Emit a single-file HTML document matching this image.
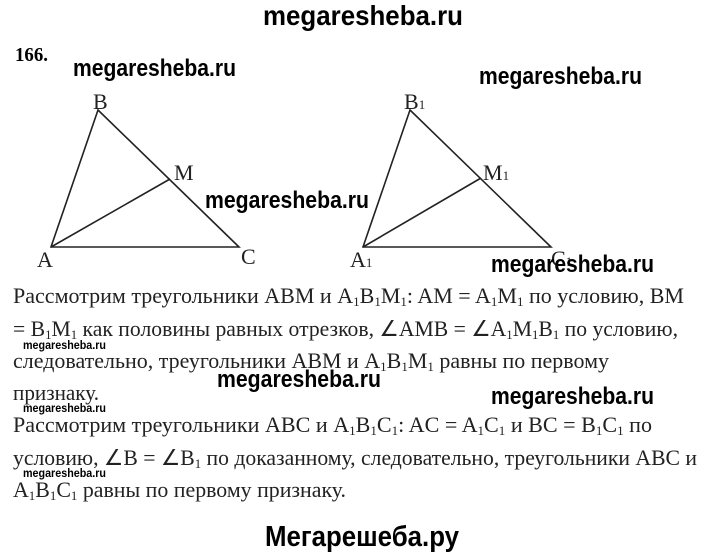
<!DOCTYPE html>
<html><head><meta charset="utf-8"><style>
html,body{margin:0;padding:0;background:#fff;}
svg{display:block;}
.s{font-family:"Liberation Serif",serif;font-size:22px;fill:#222;}
.w{font-family:"Liberation Sans",sans-serif;font-weight:bold;fill:#000;}
.sub{font-size:13px;}
</style></head><body>
<svg width="720" height="554" viewBox="0 0 720 554" xmlns="http://www.w3.org/2000/svg">
<text class="w" x="263" y="25" font-size="28" textLength="200" lengthAdjust="spacingAndGlyphs">megaresheba.ru</text>
<text x="15" y="61" font-family="Liberation Serif,serif" font-weight="bold" font-size="20" textLength="33" lengthAdjust="spacingAndGlyphs">166.</text>
<text class="w" x="73" y="76" font-size="24" textLength="163" lengthAdjust="spacingAndGlyphs">megaresheba.ru</text>
<text class="w" x="479" y="84" font-size="24" textLength="163" lengthAdjust="spacingAndGlyphs">megaresheba.ru</text>
<g stroke="#222" stroke-width="1.6" fill="none">
<polygon points="98,110 51,247 239,247"/><line x1="51" y1="247" x2="170" y2="179"/>
<polygon points="410,110 363,247 551,247"/><line x1="363" y1="247" x2="481" y2="178"/>
</g>
<g class="s" font-size="19">
<text x="93" y="109">B</text><text x="174" y="180">M</text><text x="37" y="267">A</text><text x="241" y="264">C</text>
<text x="404" y="109">B<tspan class="sub">1</tspan></text>
<text x="483" y="180">M<tspan class="sub">1</tspan></text>
<text x="350" y="267">A<tspan class="sub">1</tspan></text>
<text x="551" y="266">C<tspan class="sub">1</tspan></text>
</g>
<text class="w" x="205" y="208" font-size="24" textLength="164" lengthAdjust="spacingAndGlyphs">megaresheba.ru</text>
<text class="w" x="491" y="272" font-size="24" textLength="163" lengthAdjust="spacingAndGlyphs">megaresheba.ru</text>
<g class="s">
<text x="13" y="303" textLength="671" lengthAdjust="spacingAndGlyphs">Рассмотрим треугольники ABM и A<tspan class="sub" dy="3">1</tspan><tspan dy="-3">B</tspan><tspan class="sub" dy="3">1</tspan><tspan dy="-3">M</tspan><tspan class="sub" dy="3">1</tspan><tspan dy="-3">: AM = A</tspan><tspan class="sub" dy="3">1</tspan><tspan dy="-3">M</tspan><tspan class="sub" dy="3">1</tspan><tspan dy="-3"> по условию, BM</tspan></text>
<text x="13" y="336" textLength="665" lengthAdjust="spacingAndGlyphs">= B<tspan class="sub" dy="3">1</tspan><tspan dy="-3">M</tspan><tspan class="sub" dy="3">1</tspan><tspan dy="-3"> как половины равных отрезков, ∠AMB = ∠A</tspan><tspan class="sub" dy="3">1</tspan><tspan dy="-3">M</tspan><tspan class="sub" dy="3">1</tspan><tspan dy="-3">B</tspan><tspan class="sub" dy="3">1</tspan><tspan dy="-3"> по условию,</tspan></text>
<text x="13" y="368" textLength="596" lengthAdjust="spacingAndGlyphs">следовательно, треугольники ABM и A<tspan class="sub" dy="3">1</tspan><tspan dy="-3">B</tspan><tspan class="sub" dy="3">1</tspan><tspan dy="-3">M</tspan><tspan class="sub" dy="3">1</tspan><tspan dy="-3"> равны по первому</tspan></text>
<text x="13" y="400" textLength="86" lengthAdjust="spacingAndGlyphs">признаку.</text>
<text x="13" y="432" textLength="639" lengthAdjust="spacingAndGlyphs">Рассмотрим треугольники ABC и A<tspan class="sub" dy="3">1</tspan><tspan dy="-3">B</tspan><tspan class="sub" dy="3">1</tspan><tspan dy="-3">C</tspan><tspan class="sub" dy="3">1</tspan><tspan dy="-3">: AC = A</tspan><tspan class="sub" dy="3">1</tspan><tspan dy="-3">C</tspan><tspan class="sub" dy="3">1</tspan><tspan dy="-3"> и BC = B</tspan><tspan class="sub" dy="3">1</tspan><tspan dy="-3">C</tspan><tspan class="sub" dy="3">1</tspan><tspan dy="-3"> по</tspan></text>
<text x="13" y="465" textLength="684" lengthAdjust="spacingAndGlyphs">условию, ∠B = ∠B<tspan class="sub" dy="3">1</tspan><tspan dy="-3"> по доказанному, следовательно, треугольники ABC и</tspan></text>
<text x="13" y="497" textLength="333" lengthAdjust="spacingAndGlyphs">A<tspan class="sub" dy="3">1</tspan><tspan dy="-3">B</tspan><tspan class="sub" dy="3">1</tspan><tspan dy="-3">C</tspan><tspan class="sub" dy="3">1</tspan><tspan dy="-3"> равны по первому признаку.</tspan></text>
</g>
<text class="w" x="23" y="349" font-size="12" textLength="83" lengthAdjust="spacingAndGlyphs">megaresheba.ru</text>
<text class="w" x="23" y="412" font-size="12" textLength="83" lengthAdjust="spacingAndGlyphs">megaresheba.ru</text>
<text class="w" x="23" y="477" font-size="12" textLength="83" lengthAdjust="spacingAndGlyphs">megaresheba.ru</text>
<text class="w" x="217" y="387" font-size="24" textLength="164" lengthAdjust="spacingAndGlyphs">megaresheba.ru</text>
<text class="w" x="491" y="404" font-size="24" textLength="163" lengthAdjust="spacingAndGlyphs">megaresheba.ru</text>
<text class="w" x="265" y="546" font-size="29" textLength="194" lengthAdjust="spacingAndGlyphs">Мегарешеба.ру</text>
</svg>
</body></html>
